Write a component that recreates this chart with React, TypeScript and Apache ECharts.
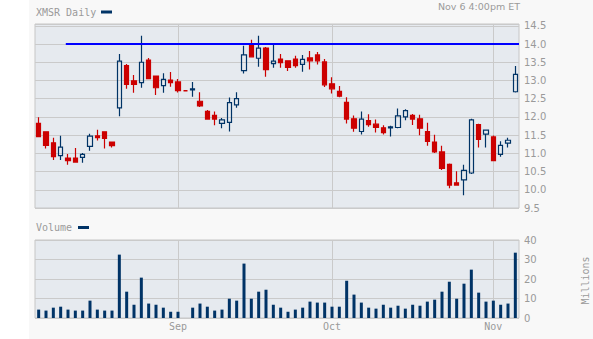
import React, { useEffect, useRef } from "react";
import * as echarts from "echarts";

// Trading days (2006), Labor Day (Sep 4) keeps an empty slot
const tradingDays = [
  "2006-08-07", "2006-08-08", "2006-08-09", "2006-08-10", "2006-08-11",
  "2006-08-14", "2006-08-15", "2006-08-16", "2006-08-17", "2006-08-18",
  "2006-08-21", "2006-08-22", "2006-08-23", "2006-08-24", "2006-08-25",
  "2006-08-28", "2006-08-29", "2006-08-30", "2006-08-31", "2006-09-01",
  "2006-09-04", "2006-09-05", "2006-09-06", "2006-09-07", "2006-09-08",
  "2006-09-11", "2006-09-12", "2006-09-13", "2006-09-14", "2006-09-15",
  "2006-09-18", "2006-09-19", "2006-09-20", "2006-09-21", "2006-09-22",
  "2006-09-25", "2006-09-26", "2006-09-27", "2006-09-28", "2006-09-29",
  "2006-10-02", "2006-10-03", "2006-10-04", "2006-10-05", "2006-10-06",
  "2006-10-09", "2006-10-10", "2006-10-11", "2006-10-12", "2006-10-13",
  "2006-10-16", "2006-10-17", "2006-10-18", "2006-10-19", "2006-10-20",
  "2006-10-23", "2006-10-24", "2006-10-25", "2006-10-26", "2006-10-27",
  "2006-10-30", "2006-10-31", "2006-11-01", "2006-11-02", "2006-11-03",
  "2006-11-06",
];

const holidayDays = ["2006-09-04"];

const openPrices = [
  11.82, 11.59, 11.29, 10.94, 10.87, 10.87, 10.89, 11.19, 11.48, 11.59,
  11.31, 12.25, 13.41, 12.99, 12.94, 13.56, 13.12, 12.86, 13.01, 12.96,
  12.72, 12.74, 12.43, 12.15, 12.04, 11.82, 11.85, 12.33, 13.27, 14.01,
  13.61, 13.89, 13.46, 13.59, 13.54, 13.59, 13.44, 13.62, 13.70, 13.51,
  12.91, 12.70, 12.40, 11.95, 11.60, 11.90, 11.80, 11.70, 11.70, 11.71,
  12.00, 12.04, 11.95, 11.60, 11.31, 11.04, 10.70, 10.19, 10.27, 10.46,
  11.79, 11.53, 11.45, 10.97, 11.28, 12.69,
];
const closePrices = [
  11.46, 11.22, 10.91, 11.17, 10.80, 10.76, 10.97, 11.47, 11.43, 11.41,
  11.21, 13.53, 12.89, 12.89, 13.50, 13.05, 12.80, 13.03, 12.94, 12.72,
  12.72, 12.77, 12.30, 11.94, 11.94, 11.92, 12.39, 12.50, 13.70, 13.65,
  13.89, 13.30, 13.53, 13.49, 13.36, 13.41, 13.58, 13.54, 13.54, 12.88,
  12.77, 12.57, 11.94, 11.69, 11.94, 11.79, 11.71, 11.57, 11.73, 12.03,
  12.17, 11.94, 11.69, 11.33, 11.04, 10.59, 10.13, 10.13, 10.53, 11.92,
  11.38, 11.64, 10.80, 11.22, 11.36, 13.17,
];
const lowPrices = [
  11.46, 11.13, 10.82, 10.82, 10.69, 10.74, 10.74, 11.07, 11.35, 11.13,
  11.16, 12.02, 12.77, 12.66, 12.80, 13.05, 12.60, 12.66, 12.83, 12.67,
  12.72, 12.55, 12.27, 11.92, 11.77, 11.69, 11.60, 12.25, 13.19, 13.65,
  13.38, 13.10, 13.35, 13.35, 13.26, 13.35, 13.24, 13.30, 13.44, 12.82,
  12.64, 12.54, 11.82, 11.59, 11.52, 11.73, 11.57, 11.52, 11.46, 11.69,
  11.91, 11.78, 11.50, 11.21, 11.01, 10.54, 10.04, 10.13, 9.85, 10.43,
  11.16, 11.16, 10.78, 10.91, 11.16, 12.67,
];
const highPrices = [
  11.99, 11.59, 11.43, 11.48, 10.98, 11.15, 11.01, 11.54, 11.65, 11.59,
  11.31, 13.73, 13.45, 13.15, 14.23, 13.62, 13.12, 13.20, 13.23, 13.04,
  12.72, 12.96, 12.68, 12.19, 12.15, 11.97, 12.53, 12.68, 13.95, 14.12,
  14.23, 13.92, 14.01, 13.73, 13.54, 13.68, 13.70, 13.81, 13.78, 13.59,
  13.09, 12.85, 12.54, 12.04, 12.15, 12.07, 11.93, 11.77, 11.76, 12.23,
  12.21, 12.08, 12.06, 11.84, 11.51, 11.21, 10.72, 10.51, 10.69, 11.95,
  11.81, 11.65, 11.49, 11.33, 11.43, 13.40,
];

// Volume in millions (null = market closed)
const volumes = [
  4.3, 3.8, 5.3, 5.8, 4.3, 3.8, 3.8, 8.9, 4.3, 3.8,
  3.8, 32.5, 13.5, 6.8, 20.7, 7.4, 6.8, 5.3, 3.2, 3.2,
  null, 5.3, 7.4, 5.8, 3.8, 4.3, 9.9, 8.9, 27.9, 9.9,
  13.5, 14.5, 6.8, 5.3, 3.2, 4.3, 5.3, 8.4, 7.9, 7.9,
  5.8, 5.8, 19.1, 12.0, 7.9, 5.3, 4.8, 6.8, 5.3, 6.3,
  4.8, 6.8, 6.3, 8.4, 9.4, 13.5, 18.6, 9.9, 17.6, 24.8,
  13.0, 8.4, 8.9, 6.8, 7.4, 33.5,
];

// Resistance line drawn on the chart (price level, start/end position in day slots)
const resistanceLevel = 14.0;
const resistanceSpan = [3.7, 65.5];

const monthStartDays = ["2006-09-01", "2006-10-02", "2006-11-01"];
const monthLabels = ["Sep", "Oct", "Nov"];

const priceTicks = { min: 9.5, max: 14.55, interval: 0.5 };
const volumeTicks = { min: 0, max: 40, interval: 10 };

const titleText = "XMSR Daily";
const timestampText = "Nov 6 4:00pm ET";
const volumeText = "Volume";
const unitText = "Millions";

const UP = "#003366";
const DOWN = "#cc0000";
const PLOT_BG = "#e6eaef";
const GRID_LINE = "#cacaca";
const TEXT = "#9a9a9a";
const MONO = '"DejaVu Sans Mono", monospace';
const SANS = '"DejaVu Sans", sans-serif';

export default function App() {
  const ref = useRef<HTMLDivElement>(null);

  useEffect(() => {
    if (!ref.current) return;
    const chart = echarts.init(ref.current, undefined, { renderer: "svg" });

    const monthIdx = monthStartDays.map((d) => tradingDays.indexOf(d));

    const candleData = tradingDays.map((d, i) => {
      const value = [openPrices[i], closePrices[i], lowPrices[i], highPrices[i]];
      if (holidayDays.includes(d)) {
        return {
          value,
          itemStyle: {
            color: DOWN,
            color0: DOWN,
            borderColor: DOWN,
            borderColor0: DOWN,
            borderColorDoji: DOWN,
            borderWidth: 1.6,
          },
        };
      }
      return value;
    });

    const monthLines = {
      silent: true,
      symbol: ["none", "none"],
      z: 1,
      label: { show: false },
      lineStyle: { color: GRID_LINE, width: 1, type: "solid" },
      emphasis: { disabled: true },
      data: monthStartDays.map((d) => ({ xAxis: d })),
    };

    const gridBase = {
      left: 35,
      width: 484,
      show: true,
      backgroundColor: PLOT_BG,
      borderColor: "#c6c6c6",
      borderWidth: 1,
    };

    const option = {
      animation: false,
      textStyle: { fontFamily: SANS },
      grid: [
        { ...gridBase, top: 24, height: 184 },
        { ...gridBase, top: 240, height: 78 },
      ],
      xAxis: [
        {
          type: "category",
          gridIndex: 0,
          data: tradingDays,
          boundaryGap: true,
          axisLine: { show: false },
          axisTick: { show: false },
          axisLabel: { show: false },
          splitLine: { show: false },
        },
        {
          type: "category",
          gridIndex: 1,
          data: tradingDays,
          boundaryGap: true,
          axisLine: { show: false },
          axisTick: { show: false },
          splitLine: { show: false },
          axisLabel: {
            interval: (i: number) => monthIdx.includes(i),
            formatter: (_v: string, i: number) => monthLabels[monthIdx.indexOf(i)] ?? "",
            color: TEXT,
            fontFamily: MONO,
            fontSize: 10,
            margin: 3,
          },
        },
        {
          type: "value",
          gridIndex: 0,
          min: -0.5,
          max: tradingDays.length - 0.5,
          show: false,
        },
      ],
      yAxis: [
        {
          type: "value",
          gridIndex: 0,
          position: "right",
          min: priceTicks.min,
          max: priceTicks.max,
          interval: priceTicks.interval,
          axisLine: { show: false },
          axisTick: { show: false },
          splitLine: { show: true, lineStyle: { color: GRID_LINE, width: 1 } },
          axisLabel: {
            showMaxLabel: false,
            formatter: (v: number) => v.toFixed(1),
            color: TEXT,
            fontFamily: SANS,
            fontSize: 10,
            margin: 5,
          },
        },
        {
          type: "value",
          gridIndex: 1,
          position: "right",
          min: volumeTicks.min,
          max: volumeTicks.max,
          interval: volumeTicks.interval,
          axisLine: { show: false },
          axisTick: { show: false },
          splitLine: { show: true, lineStyle: { color: GRID_LINE, width: 1 } },
          axisLabel: {
            color: TEXT,
            fontFamily: SANS,
            fontSize: 10,
            margin: 5,
          },
        },
      ],
      series: [
        {
          type: "candlestick",
          xAxisIndex: 0,
          yAxisIndex: 0,
          barWidth: 5,
          data: candleData,
          itemStyle: {
            color: "rgba(0,0,0,0)",
            color0: DOWN,
            borderColor: UP,
            borderColor0: DOWN,
            borderColorDoji: UP,
            borderWidth: 1.2,
          },
          markLine: monthLines,
        },
        {
          type: "line",
          xAxisIndex: 2,
          yAxisIndex: 0,
          symbol: "none",
          silent: true,
          z: 3,
          lineStyle: { color: "#0000ff", width: 2 },
          data: [
            [resistanceSpan[0], resistanceLevel],
            [resistanceSpan[1], resistanceLevel],
          ],
        },
        {
          type: "bar",
          xAxisIndex: 1,
          yAxisIndex: 1,
          barWidth: 3,
          itemStyle: { color: UP },
          data: volumes.map((v) => (v == null ? "-" : v)),
          markLine: monthLines,
        },
      ],
      graphic: [
        {
          type: "text",
          x: 36,
          y: 12,
          style: { text: titleText, fill: TEXT, font: `10px ${MONO}`, verticalAlign: "middle", align: "left" },
        },
        { type: "rect", shape: { x: 101, y: 10.5, width: 11, height: 3 }, style: { fill: UP } },
        {
          type: "text",
          x: 520,
          y: 6.5,
          style: { text: timestampText, fill: TEXT, font: `9.5px ${SANS}`, verticalAlign: "middle", align: "right" },
        },
        {
          type: "text",
          x: 36,
          y: 227.5,
          style: { text: volumeText, fill: TEXT, font: `10px ${MONO}`, verticalAlign: "middle", align: "left" },
        },
        { type: "rect", shape: { x: 78, y: 226, width: 11, height: 3 }, style: { fill: UP } },
        {
          type: "text",
          x: 585,
          y: 280.5,
          rotation: Math.PI / 2,
          style: { text: unitText, fill: TEXT, font: `10px ${MONO}`, verticalAlign: "middle", align: "center" },
        },
      ],
    };

    chart.setOption(option as any);
    return () => chart.dispose();
  }, []);

  return (
    <div style={{ position: "absolute", left: 0, top: 0, width: 593, height: 339, background: "#ffffff" }}>
      <div style={{ position: "absolute", left: 29, top: 0, width: 564, height: 339, background: "#f8f8f8" }} />
      <div ref={ref} style={{ position: "absolute", left: 0, top: 0, width: 593, height: 339 }} />
    </div>
  );
}
